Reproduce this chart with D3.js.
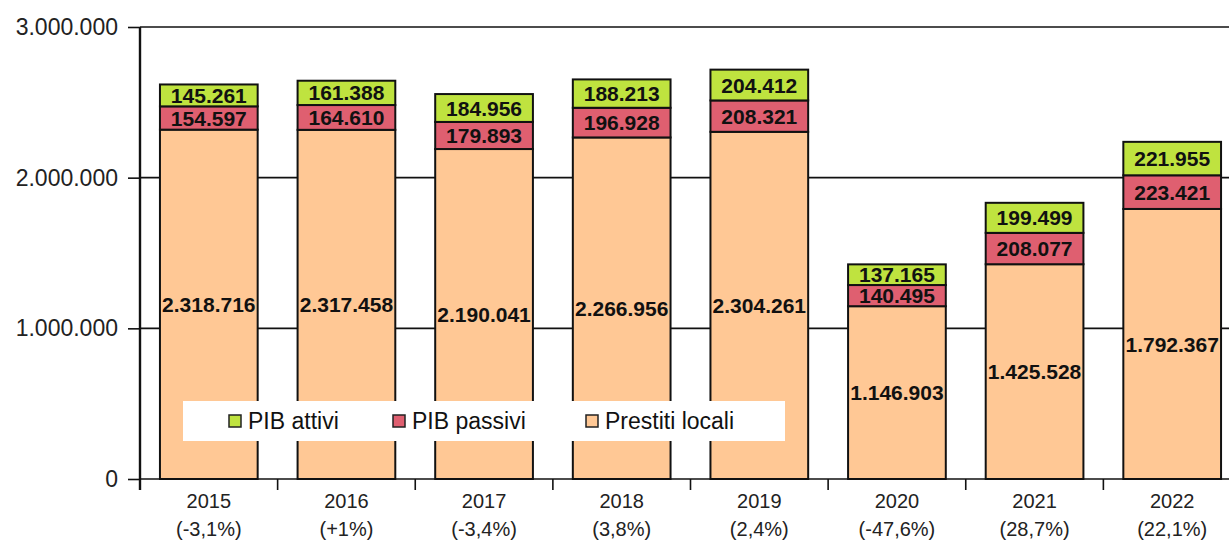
<!DOCTYPE html>
<html>
<head>
<meta charset="utf-8">
<script src="https://cdn.jsdelivr.net/npm/d3@7.9.0/dist/d3.min.js"></script>
<style>
  body { margin: 0; background: #fff; }
  svg { display: block; font-family: "Liberation Sans", Arial, sans-serif; }
</style>
</head>
<body>
<svg width="1229" height="543"></svg>
<script>
const years = ['2015', '2016', '2017', '2018', '2019', '2020', '2021', '2022'];
const changes = ['(-3,1%)', '(+1%)', '(-3,4%)', '(3,8%)', '(2,4%)', '(-47,6%)', '(28,7%)', '(22,1%)'];
const prestitiLocali = [2318716, 2317458, 2190041, 2266956, 2304261, 1146903, 1425528, 1792367];
const pibPassivi = [154597, 164610, 179893, 196928, 208321, 140495, 208077, 223421];
const pibAttivi = [145261, 161388, 184956, 188213, 204412, 137165, 199499, 221955];
const yTicks = [0, 1000000, 2000000, 3000000];

const seriesNames = ['Prestiti locali', 'PIB passivi', 'PIB attivi'];
const colors = { 'Prestiti locali': '#ffc895', 'PIB passivi': '#df5f70', 'PIB attivi': '#bfe33f' };

const svg = d3.select('svg');
const fmt = d3.formatLocale({ decimal: ',', thousands: '.', grouping: [3], currency: ['', ''] }).format(',d');

let rows = years.map((y, i) => ({
  year: y,
  'Prestiti locali': prestitiLocali[i],
  'PIB passivi': pibPassivi[i],
  'PIB attivi': pibAttivi[i],
}));

let x = d3.scaleBand().domain(years).range([140, 1241]).paddingInner(0.29).paddingOuter(0.145);
let y = d3.scaleLinear().domain([0, 3000000]).range([479, 27]);

// gridlines
svg.append('g')
  .selectAll('line')
  .data(yTicks.slice(1))
  .join('line')
  .attr('x1', 140).attr('x2', 1229)
  .attr('y1', (d) => y(d)).attr('y2', (d) => y(d))
  .attr('stroke', '#111').attr('stroke-width', 1.6);

let stack = d3.stack().keys(seriesNames)(rows);

let layers = svg.append('g')
  .selectAll('g')
  .data(stack)
  .join('g')
  .attr('fill', (d) => colors[d.key]);

layers.selectAll('rect')
  .data((d) => d)
  .join('rect')
  .attr('x', (d) => x(d.data.year))
  .attr('width', x.bandwidth())
  .attr('y', (d) => y(d[1]))
  .attr('height', (d) => y(d[0]) - y(d[1]))
  .attr('stroke', '#111')
  .attr('stroke-width', 2);

// value labels
layers.selectAll('text')
  .data((d) => d.map((v) => ({ v, key: d.key })))
  .join('text')
  .attr('x', (d) => x(d.v.data.year) + x.bandwidth() / 2)
  .attr('y', (d) => (y(d.v[0]) + y(d.v[1])) / 2)
  .attr('dy', '0.36em')
  .attr('text-anchor', 'middle')
  .attr('fill', '#111')
  .attr('font-size', 21)
  .attr('font-weight', 'bold')
  .text((d) => fmt(d.v.data[d.key]));

// y axis
let yAxis = svg.append('g')
  .attr('transform', 'translate(140,0)')
  .call(d3.axisLeft(y).tickValues(yTicks).tickSize(12).tickPadding(10).tickFormat((d) => fmt(d)));
yAxis.select('.domain').remove();
yAxis.selectAll('.tick line').attr('stroke', '#111').attr('stroke-width', 1.6);
yAxis.selectAll('.tick text').attr('font-size', 23).attr('fill', '#222').attr('font-family', null);
svg.append('line')
  .attr('x1', 140).attr('x2', 140).attr('y1', y(3000000)).attr('y2', 490)
  .attr('stroke', '#111').attr('stroke-width', 2.4);

// x axis
svg.append('line')
  .attr('x1', 140).attr('x2', 1229).attr('y1', 479).attr('y2', 479)
  .attr('stroke', '#111').attr('stroke-width', 1.6);
svg.append('g')
  .selectAll('line')
  .data(years.slice(1))
  .join('line')
  .attr('x1', (d) => x(d) - x.step() * x.paddingInner() / 2)
  .attr('x2', (d) => x(d) - x.step() * x.paddingInner() / 2)
  .attr('y1', 479).attr('y2', 490)
  .attr('stroke', '#111').attr('stroke-width', 1.6);

let xLabels = svg.append('g')
  .selectAll('text')
  .data(years)
  .join('text')
  .attr('x', (d) => x(d) + x.bandwidth() / 2)
  .attr('text-anchor', 'middle')
  .attr('font-size', 20)
  .attr('fill', '#222');
xLabels.append('tspan').attr('x', (d) => x(d) + x.bandwidth() / 2).attr('y', 508).text((d) => d);
xLabels.append('tspan').attr('x', (d) => x(d) + x.bandwidth() / 2).attr('y', 536).text((d, i) => changes[i]);

// legend
let legend = svg.append('g');
legend.append('rect')
  .attr('x', 183).attr('y', 401).attr('width', 602).attr('height', 40)
  .attr('fill', '#fff');
let legendItems = [
  { name: 'PIB attivi', x: 229 },
  { name: 'PIB passivi', x: 393 },
  { name: 'Prestiti locali', x: 586 },
];
legendItems.forEach((item) => {
  legend.append('rect')
    .attr('x', item.x).attr('y', 415).attr('width', 12).attr('height', 12)
    .attr('fill', colors[item.name]).attr('stroke', '#222').attr('stroke-width', 1.5);
  legend.append('text')
    .attr('x', item.x + 19).attr('y', 429)
    .attr('font-size', 23).attr('fill', '#111')
    .text(item.name);
});
</script>
</body>
</html>
